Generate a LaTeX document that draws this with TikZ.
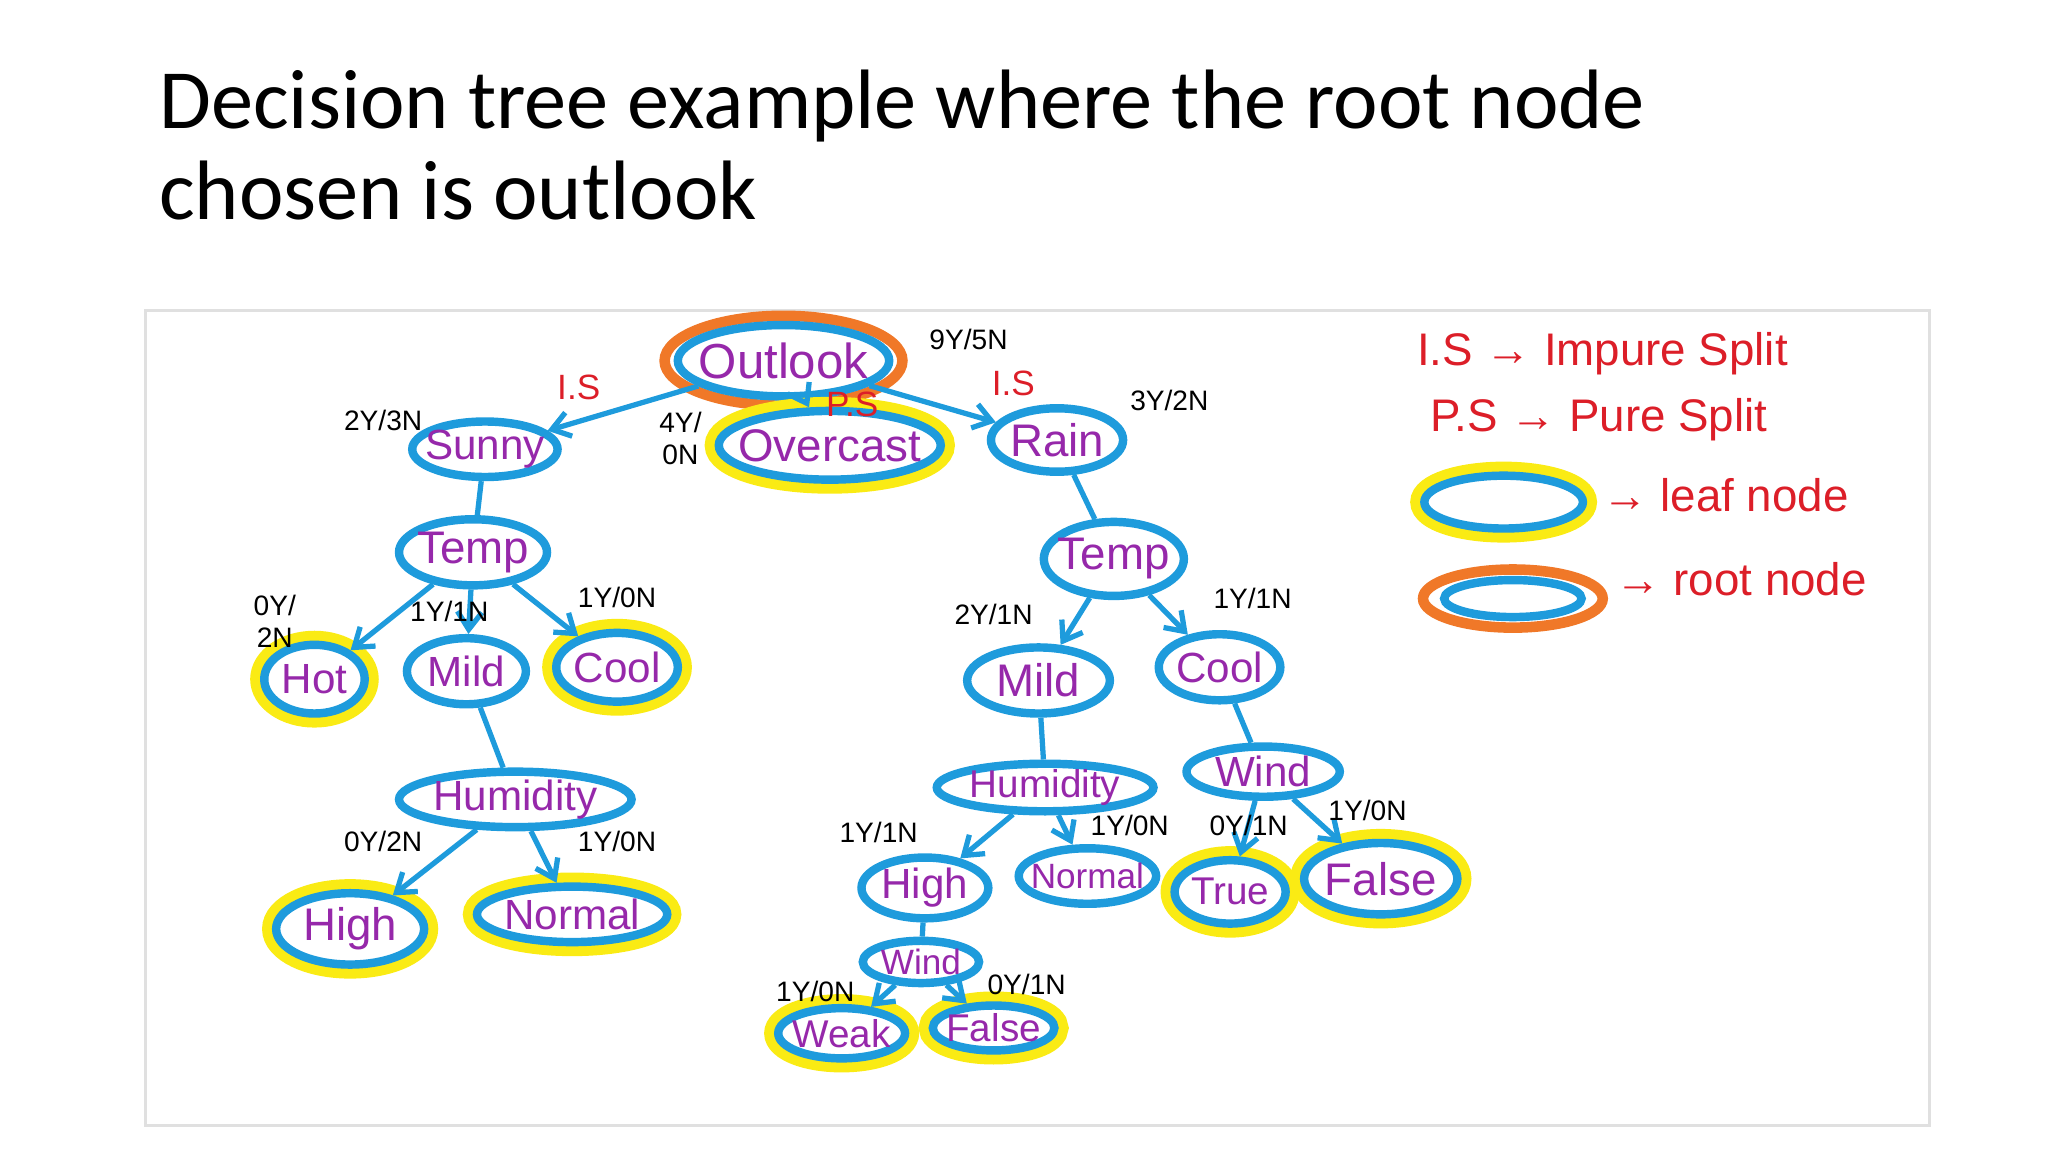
\documentclass[tikz,border=0pt]{standalone}
\usepackage{fontspec}
\setmainfont{Carlito}
\newfontfamily\hand{Liberation Sans}
\usetikzlibrary{shapes.geometric,arrows.meta}
\definecolor{cblue}{RGB}{30,155,220}
\definecolor{ylw}{RGB}{250,235,20}
\definecolor{org}{RGB}{240,120,40}
\definecolor{purp}{RGB}{150,40,170}
\definecolor{rd}{RGB}{220,30,40}
\tikzset{
 el/.style 2 args={ellipse,draw=cblue,line width=2.4pt,fill=white,inner sep=0pt,
   minimum width=2*#1*0.01321cm,minimum height=2*#2*0.01321cm},
 tx/.style={font=\hand\fontsize{#1}{14}\selectfont,text=purp,inner sep=0pt},
 leaf/.style={preaction={draw=ylw,line width=8pt}},
 lbl/.style={font=\hand\fontsize{8}{9}\selectfont,align=center,inner sep=0pt},
 rlbl/.style={lbl,text=rd,font=\hand\fontsize{10}{11}\selectfont},
 lg/.style={rlbl,anchor=west,font=\hand\fontsize{13}{15}\selectfont},
 ed/.style={draw=cblue,line width=1.5pt},
 ar/.style={ed,-{Straight Barb[length=5pt,width=7pt]}},
}
\begin{document}
\begin{tikzpicture}[x=0.01321cm,y=-0.01321cm]
\useasboundingbox (0,0) rectangle (1550,872);
\node[anchor=base west,inner sep=0,font=\fontsize{24}{28}\selectfont] (t1) at (120,97) {Decision tree example where the root node};
\node[anchor=base west,inner sep=0,font=\fontsize{24}{28}\selectfont] (t2) at (120,166) {chosen is outlook};
\draw[black!12,line width=0.8pt] (110,235) rectangle (1460,852);
\draw[org,line width=3pt] (593,273) ellipse [x radius=90,y radius=34];
\def\N#1#2#3#4#5#6{\node[el={#3}{#4},#6] (#1) at #2 {}; \node[tx=#5] (#1t) at (#1) }
\N{outlook}{(593,273)}{80}{27}{14}{}{Outlook};
\N{overcast}{(628,337)}{84}{26}{13}{leaf}{Overcast};
\N{sunny}{(367,340)}{55}{21}{12}{}{Sunny};
\N{rain}{(800,333)}{50}{24}{13}{}{Rain};
\N{tempL}{(358,418)}{56}{25}{13}{}{Temp};
\N{hot}{(238,514)}{38}{26}{12}{leaf}{Hot};
\N{mildL}{(353,508)}{45}{25}{12}{}{Mild};
\N{coolL}{(467,505)}{46}{26}{12}{leaf}{Cool};
\N{humL}{(390,605)}{88}{21}{12}{}{Humidity};
\N{highL}{(265,703)}{56}{27}{13}{leaf}{High};
\N{normL}{(433,692)}{72}{21}{12}{leaf}{Normal};
\N{tempR}{(843,423)}{53}{28}{13}{}{Temp};
\N{mildR}{(786,515)}{54}{25}{13}{}{Mild};
\N{coolR}{(923,505)}{46}{25}{12}{}{Cool};
\N{humR}{(791,596)}{82}{18}{11}{}{Humidity};
\N{windR}{(956,584)}{58}{19}{12}{}{Wind};
\N{highR}{(700,672)}{48}{23}{12}{}{High};
\N{normR}{(823,663)}{52}{21}{10}{}{Normal};
\N{true}{(931,675)}{42}{24}{11}{leaf}{True};
\N{false}{(1045,665)}{58}{27}{13}{leaf}{False};
\N{wind2}{(697,728)}{44}{16}{10}{}{Wind};
\N{weak}{(637,782)}{48}{19}{11}{leaf}{Weak};
\N{false2}{(752,778)}{46}{17}{11}{leaf}{False};
% edges
\draw[ar] (outlook) -- (sunny);
\draw[ar] (outlook) -- (rain);
\draw[ar] (outlook) -- (overcast);
\draw[ed] (sunny) -- (tempL);
\draw[ar] (tempL) -- (hot);
\draw[ar] (tempL) -- (mildL);
\draw[ar] (tempL) -- (coolL);
\draw[ed] (mildL) -- (humL);
\draw[ar] (humL) -- (highL);
\draw[ar] (humL) -- (normL);
\draw[ed] (rain) -- (tempR);
\draw[ar] (tempR) -- (mildR);
\draw[ar] (tempR) -- (coolR);
\draw[ed] (mildR) -- (humR);
\draw[ed] (coolR) -- (windR);
\draw[ar] (humR) -- (highR);
\draw[ar] (humR) -- (normR);
\draw[ar] (windR) -- (true);
\draw[ar] (windR) -- (false);
\draw[ed] (highR) -- (wind2);
\draw[ar] (wind2) -- (weak);
\draw[ar] (wind2) -- (false2);
% labels
\node[lbl] (l1) at (733,257) {9Y/5N};
\node[rlbl] (l2) at (438,293) {I.S};
\node[rlbl] (l3) at (767,290) {I.S};
\node[rlbl] (l4) at (645,306) {P.S};
\node[lbl] (l5) at (290,318) {2Y/3N};
\node[lbl] (l6) at (515,332) {4Y/\\0N};
\node[lbl] (l7) at (885,303) {3Y/2N};
\node[lbl] (l8) at (208,470) {0Y/\\2N};
\node[lbl] (l9) at (340,463) {1Y/1N};
\node[lbl] (l10) at (467,452) {1Y/0N};
\node[lbl] (l11) at (752,465) {2Y/1N};
\node[lbl] (l12) at (948,453) {1Y/1N};
\node[lbl] (l13) at (290,637) {0Y/2N};
\node[lbl] (l14) at (467,637) {1Y/0N};
\node[lbl] (l15) at (665,630) {1Y/1N};
\node[lbl] (l16) at (855,625) {1Y/0N};
\node[lbl] (l17) at (945,625) {0Y/1N};
\node[lbl] (l18) at (1035,613) {1Y/0N};
\node[lbl] (l19) at (617,750) {1Y/0N};
\node[lbl] (l20) at (777,745) {0Y/1N};
% legend
\node[lg] (g1) at (1072,268) {I.S → Impure Split};
\node[lg] (g2) at (1082,318) {P.S → Pure Split};
\node[el={60}{20},leaf] (gl) at (1138,380) {};
\node[lg] (g3) at (1212,375) {→ leaf node};
\draw[org,line width=3pt] (1145,453) ellipse [x radius=68,y radius=22];
\node[el={52}{14}] (gr) at (1145,453) {};
\node[lg] (g4) at (1222,438) {→ root node};
\end{tikzpicture}
\end{document}
